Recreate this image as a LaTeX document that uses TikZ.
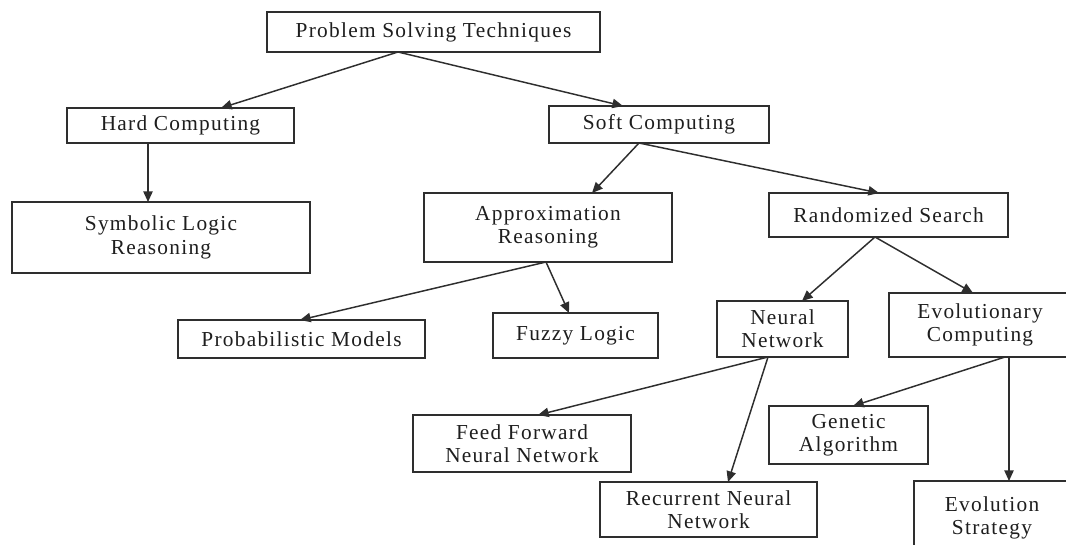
\documentclass[tikz,border=0pt]{standalone}
\usepackage{fontspec}
\setmainfont{Liberation Serif}[LetterSpace=6]
\usetikzlibrary{arrows.meta}
\definecolor{ln}{HTML}{2E2E2E}
\definecolor{tx}{HTML}{1E1E1E}
\tikzset{
  box/.style={draw=ln, line width=1.1pt, fill=white, text=tx, align=center, inner sep=0pt, outer sep=0pt,
    font=\fontsize{16}{17.5}\selectfont},
  conn/.style={draw=ln, line width=1.1pt, -{Triangle[length=8pt,width=7pt]}}
}
\begin{document}
\begin{tikzpicture}[x=0.75pt,y=-0.75pt]
\useasboundingbox (0,0) rectangle (1066,545);
\clip (0,0) rectangle (1066,545);
\fill[white] (0,0) rectangle (1066,545);
% nodes
\node[box, minimum width=333*0.75pt, minimum height=40*0.75pt] (pst) at (433.5,32) {Problem Solving Techniques};
\node[box, minimum width=227*0.75pt, minimum height=35*0.75pt] (hard) at (180.5,125.5) {Hard Computing};
\node[box, minimum width=220*0.75pt, minimum height=37*0.75pt] (soft) at (659,124.5) {Soft Computing};
\node[box, minimum width=298*0.75pt, minimum height=71*0.75pt] (sym) at (161,237.5) {Symbolic Logic\\Reasoning};
\node[box, minimum width=248*0.75pt, minimum height=69*0.75pt] (approx) at (548,227.5) {Approximation\\Reasoning};
\node[box, minimum width=239*0.75pt, minimum height=44*0.75pt] (rand) at (888.5,215) {Randomized Search};
\node[box, minimum width=247*0.75pt, minimum height=38*0.75pt] (prob) at (301.5,339) {Probabilistic Models};
\node[box, minimum width=165*0.75pt, minimum height=45*0.75pt] (fuzzy) at (575.5,335.5) {Fuzzy Logic};
\node[box, minimum width=131*0.75pt, minimum height=56*0.75pt] (neural) at (782.5,329) {Neural\\Network};
\node[box, minimum width=182*0.75pt, minimum height=64*0.75pt] (evo) at (980,325) {Evolutionary\\Computing};
\node[box, minimum width=218*0.75pt, minimum height=57*0.75pt] (ff) at (522,443.5) {Feed Forward\\Neural Network};
\node[box, minimum width=159*0.75pt, minimum height=58*0.75pt] (gen) at (848.5,435) {Genetic\\Algorithm};
\node[box, minimum width=217*0.75pt, minimum height=55*0.75pt] (rnn) at (708.5,509.5) {Recurrent Neural\\Network};
\node[box, minimum width=156*0.75pt, minimum height=74*0.75pt] (evs) at (992,518) {Evolution\\Strategy};
% connectors
\draw[conn] ([xshift=-35.5*0.75pt]pst.south) -- ([xshift=40.5*0.75pt]hard.north);
\draw[conn] ([xshift=-35.5*0.75pt]pst.south) -- ([xshift=-36*0.75pt]soft.north);
\draw[conn] ([xshift=-32.5*0.75pt]hard.south) -- ([xshift=-13*0.75pt]sym.north);
\draw[conn] ([xshift=-20*0.75pt]soft.south) -- ([xshift=44*0.75pt]approx.north);
\draw[conn] ([xshift=-20*0.75pt]soft.south) -- ([xshift=-9.5*0.75pt]rand.north);
\draw[conn] ([xshift=-2*0.75pt]approx.south) -- ([xshift=-1.5*0.75pt]prob.north);
\draw[conn] ([xshift=-2*0.75pt]approx.south) -- ([xshift=-6.5*0.75pt]fuzzy.north);
\draw[conn] ([xshift=-13.5*0.75pt]rand.south) -- ([xshift=19.5*0.75pt]neural.north);
\draw[conn] ([xshift=-13.5*0.75pt]rand.south) -- ([xshift=-7*0.75pt]evo.north);
\draw[conn] ([xshift=-14.5*0.75pt]neural.south) -- ([xshift=16*0.75pt]ff.north);
\draw[conn] ([xshift=-14.5*0.75pt]neural.south) -- ([xshift=19.5*0.75pt]rnn.north);
\draw[conn] ([xshift=25*0.75pt]evo.south) -- ([xshift=4.5*0.75pt]gen.north);
\draw[conn] ([xshift=29*0.75pt]evo.south) -- ([xshift=17*0.75pt]evs.north);
\end{tikzpicture}
\end{document}
